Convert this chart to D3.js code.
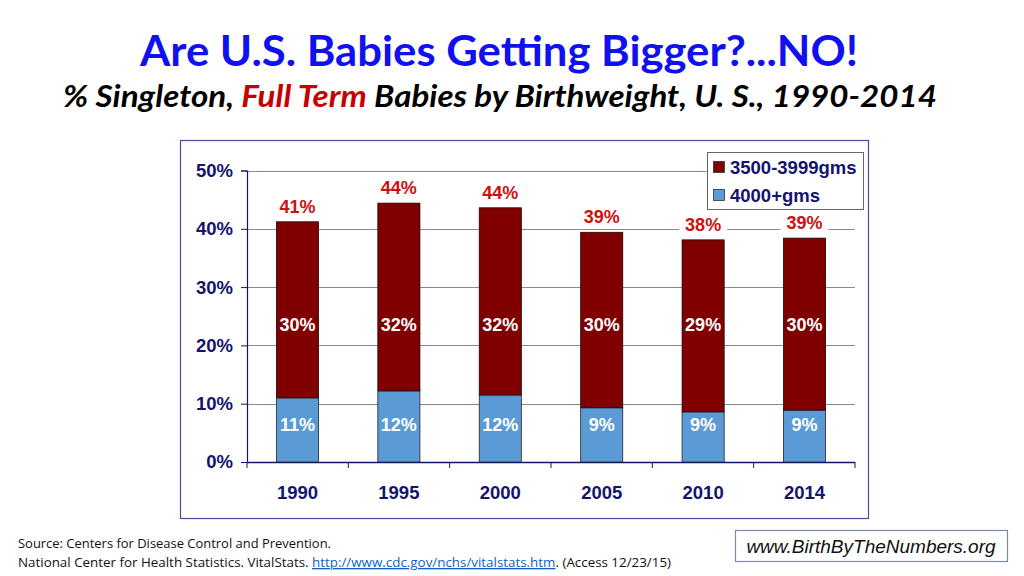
<!DOCTYPE html>
<html><head><meta charset="utf-8">
<script src="https://cdn.jsdelivr.net/npm/d3@7"></script>
<style>body{margin:0;background:#fff}svg{display:block}</style>
</head><body><svg id="c" width="1024" height="576"></svg>
<script>
const years = ["1990","1995","2000","2005","2010","2014"];
const over4000 = [11.0, 12.2, 11.5, 9.3, 8.6, 8.9];
const mid3500 = [30.2, 32.2, 32.1, 30.1, 29.5, 29.5];
const totalLabels = ["41%","44%","44%","39%","38%","39%"];
const midLabels = ["30%","32%","32%","30%","29%","30%"];
const lowLabels = ["11%","12%","12%","9%","9%","9%"];
const yTicks = [0,10,20,30,40,50];
const seriesNames = ["3500-3999gms","4000+gms"];

const svg = d3.select("#c");
const navy = "#14146e", red = "#800000", blue = "#5b9bd5", lblRed = "#d01010";
const F = "'Liberation Sans', Arial, sans-serif";

// Title
svg.append("text").attr("x",499).attr("y",66).attr("text-anchor","middle")
  .attr("font-family","Lato, 'Open Sans', sans-serif").attr("font-weight","bold")
  .attr("font-size",42).attr("fill","#1010f0")
  .attr("textLength",718).attr("lengthAdjust","spacingAndGlyphs")
  .text("Are U.S. Babies Getting Bigger?...NO!");
const sub = svg.append("text").attr("x",63).attr("y",107)
  .attr("font-family","Lato, 'Open Sans', sans-serif").attr("font-weight","bold")
  .attr("font-style","italic").attr("font-size",30).attr("fill","#000")
  .attr("textLength",874).attr("lengthAdjust","spacingAndGlyphs");
sub.append("tspan").text("% Singleton, ");
sub.append("tspan").attr("fill","#c80000").text("Full Term");
sub.append("tspan").text(" Babies by Birthweight, U. S., 1990-2014");

// Frame
svg.append("rect").attr("x",180.5).attr("y",140.5).attr("width",688).attr("height",378)
  .attr("fill","none").attr("stroke","#4a4a9a").attr("stroke-width",1.2);

const x0 = 247, x1 = 855, yb = 462, yt = 170.5;
const x = d3.scaleBand().domain(years).range([x0,x1]).paddingInner(0.585).paddingOuter(0.29);
const y = d3.scaleLinear().domain([0,50]).range([yb,yt]);

// gridlines
svg.append("g").selectAll("line").data(yTicks.filter(d=>d>0)).join("line")
  .attr("x1",x0).attr("x2",x1).attr("y1",d=>Math.round(y(d))+0.5).attr("y2",d=>Math.round(y(d))+0.5)
  .attr("stroke","#8a8a8a").attr("stroke-width",1.2);

// y axis
const ya = svg.append("g").attr("transform",`translate(${x0},0)`)
  .call(d3.axisLeft(y).tickValues(yTicks).tickFormat(d=>d+"%").tickSize(6).tickPadding(8));
ya.select(".domain").attr("stroke",navy).attr("stroke-width",1.2);
ya.selectAll(".tick line").attr("stroke",navy);
ya.selectAll("text").attr("font-family",F).attr("font-weight","bold").attr("font-size",18.5).attr("fill",navy);

// x axis
const xa = svg.append("g").attr("transform",`translate(0,${yb})`);
xa.append("line").attr("x1",x0).attr("x2",x1).attr("y1",0.5).attr("y2",0.5).attr("stroke",navy).attr("stroke-width",1.5);
xa.selectAll("line.t").data(d3.range(years.length+1)).join("line").attr("class","t")
  .attr("x1",i=>x0+i*(x1-x0)/years.length).attr("x2",i=>x0+i*(x1-x0)/years.length)
  .attr("y1",0).attr("y2",6).attr("stroke",navy);
xa.selectAll("text").data(years).join("text")
  .attr("x",d=>x(d)+x.bandwidth()/2).attr("y",37).attr("text-anchor","middle")
  .attr("font-family",F).attr("font-weight","bold").attr("font-size",18.5).attr("fill",navy).text(d=>d);

// bars
const bars = svg.append("g");
years.forEach((yr,i)=>{
  bars.append("rect").attr("x",x(yr)).attr("width",x.bandwidth())
    .attr("y",y(over4000[i])).attr("height",y(0)-y(over4000[i]))
    .attr("fill",blue).attr("stroke","#223").attr("stroke-width",0.8);
  bars.append("rect").attr("x",x(yr)).attr("width",x.bandwidth())
    .attr("y",y(over4000[i]+mid3500[i])).attr("height",y(over4000[i])-y(over4000[i]+mid3500[i]))
    .attr("fill",red).attr("stroke","#200").attr("stroke-width",0.8);
});

// labels
const lab = svg.append("g").attr("font-family",F).attr("font-weight","bold").attr("font-size",18).attr("text-anchor","middle");
years.forEach((yr,i)=>{
  const cx = x(yr)+x.bandwidth()/2;
  const ty = y(over4000[i]+mid3500[i]) - 9;
  const tw = 48;
  lab.append("rect").attr("x",cx-tw/2).attr("y",ty-16).attr("width",tw).attr("height",21).attr("fill","#fff");
  lab.append("text").attr("x",cx).attr("y",ty).attr("fill",lblRed).text(totalLabels[i]);
  lab.append("text").attr("x",cx).attr("y",y(22.4)).attr("fill","#fff").text(midLabels[i]);
  lab.append("text").attr("x",cx).attr("y",y(5.4)).attr("fill","#fff").text(lowLabels[i]);
});

// legend
const lg = svg.append("g").attr("transform","translate(707,152)");
lg.append("rect").attr("x",0.5).attr("y",0.5).attr("width",156).attr("height",57).attr("fill","#fff").attr("stroke","#666");
[red,blue].forEach((c,i)=>{
  lg.append("rect").attr("x",6.5).attr("y",9.5+i*28).attr("width",11).attr("height",11).attr("fill",c).attr("stroke","#333").attr("stroke-width",0.8);
  lg.append("text").attr("x",23).attr("y",22+i*28).attr("font-family",F).attr("font-weight","bold")
    .attr("font-size",18.5).attr("fill",navy).text(seriesNames[i]);
});

// source
const src = svg.append("g").attr("font-family","'Open Sans', Lato, sans-serif").attr("font-size",13).attr("fill","#111");
src.append("text").attr("x",18).attr("y",548).attr("textLength",313).attr("lengthAdjust","spacingAndGlyphs")
  .text("Source: Centers for Disease Control and Prevention.");
const l2 = src.append("text").attr("x",18).attr("y",567).attr("textLength",653).attr("lengthAdjust","spacingAndGlyphs");
l2.append("tspan").text("National Center for Health Statistics. VitalStats. ");
l2.append("tspan").attr("fill","#1060c8").attr("text-decoration","underline").text("http://www.cdc.gov/nchs/vitalstats.htm");
l2.append("tspan").text(".  (Access 12/23/15)");

// website box
svg.append("rect").attr("x",735.5).attr("y",530.5).attr("width",272).attr("height",31).attr("fill","#fff").attr("stroke","#7a8aa8").attr("stroke-width",1.2);
svg.append("text").attr("x",871).attr("y",553).attr("text-anchor","middle").attr("font-family",F)
  .attr("font-style","italic").attr("font-size",19).attr("fill","#111").text("www.BirthByTheNumbers.org");
</script></body></html>
